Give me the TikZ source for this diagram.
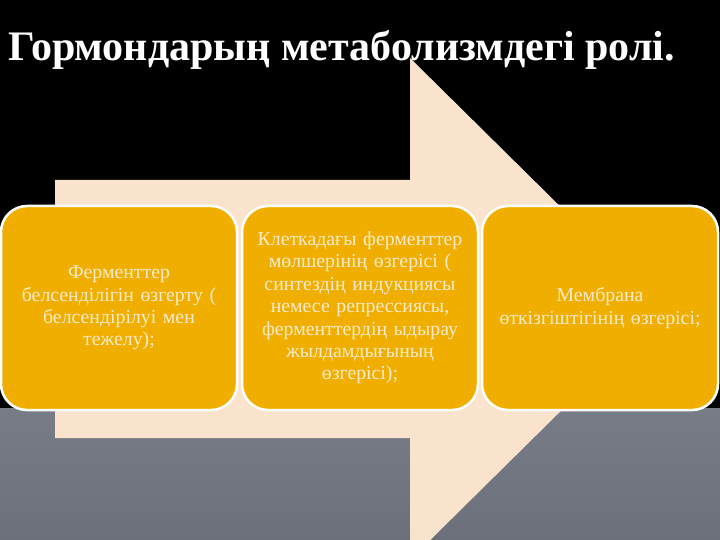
\documentclass[tikz,border=0pt]{standalone}
\usepackage{fontspec}
\setmainfont{Liberation Serif}
\definecolor{peach}{HTML}{F9E3CC}
\definecolor{gold}{HTML}{EFAE00}
\definecolor{cream}{HTML}{FBEBCB}
\definecolor{grayA}{HTML}{787C86}
\definecolor{grayB}{HTML}{6C707A}
\tikzset{
  stagebox/.style={rectangle, rounded corners=26pt, draw=white, line width=2.5pt,
    fill=gold, minimum width=236pt, minimum height=204pt, text width=228pt,
    align=center, text=cream, font=\fontsize{19.8}{22.4}\selectfont, inner sep=0pt},
  titletext/.style={text=white, font=\bfseries\fontsize{42}{42}\selectfont, inner sep=0pt, anchor=west}
}
\begin{document}
\begin{tikzpicture}[x=1pt,y=-1pt]
\useasboundingbox (0,0) rectangle (720,540);
\fill[black] (0,0) rectangle (720,408);
\shade[top color=grayA, bottom color=grayB] (0,408) rectangle (720,540);
\begin{scope}
\clip (0,0) rectangle (720,540);
\fill[peach] (55,180) -- (410,180) -- (410,58) -- (664,309) -- (410,560) -- (410,438) -- (55,438) -- cycle;
\end{scope}
\node[titletext] (title) at (8,50) {Гормондарың метаболизмдегі ролі.};
\node[stagebox] (b1) at (119,308) {Ферменттер\\белсенділігін өзгерту (\\белсендірілуі мен\\тежелу);};
\node[stagebox] (b2) at (360,308) {Клеткадағы ферменттер\\мөлшерінің өзгерісі (\\синтездің индукциясы\\немесе репрессиясы,\\ферменттердің ыдырау\\жылдамдығының\\өзгерісі);};
\node[stagebox] (b3) at (600,308) {Мембрана\\өткізгіштігінің өзгерісі;};
\end{tikzpicture}
\end{document}
